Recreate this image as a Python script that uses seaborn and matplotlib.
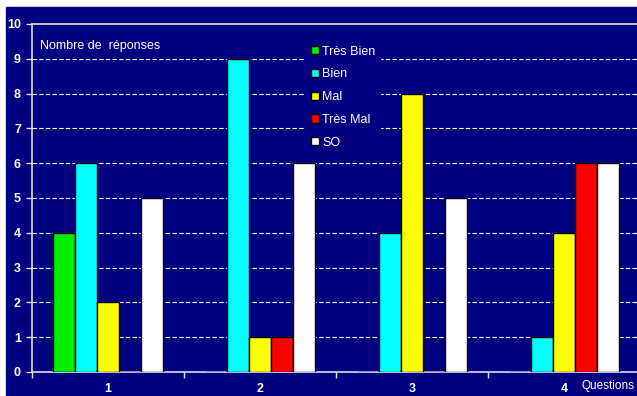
import pandas as pd
import matplotlib.pyplot as plt
import matplotlib.patches as mpatches
import seaborn as sns

# Données
questions = ['1', '2', '3', '4']
series = ['Très Bien', 'Bien', 'Mal', 'Très Mal', 'SO']
tres_bien = [4, 0, 0, 0]
bien = [6, 9, 4, 1]
mal = [2, 1, 8, 4]
tres_mal = [0, 1, 0, 6]
so = [5, 6, 5, 6]
couleurs = ['#00ee00', '#00ffff', '#ffff00', '#ff0000', '#ffffff']

navy = '#000080'

valeurs = [tres_bien, bien, mal, tres_mal, so]
lignes = []
for nom, vals in zip(series, valeurs):
    for q, v in zip(questions, vals):
        lignes.append({'Question': q, 'Avis': nom, 'Reponses': v})
dados = pd.DataFrame(lignes)

sns.set_style('white')
plt.rcParams['font.family'] = ['Liberation Sans', 'DejaVu Sans']

fig = plt.figure(figsize=(6.37, 3.96), dpi=100)
fig.patch.set_facecolor('white')
fond = mpatches.Rectangle((6 / 637, 0), 1, 1 - 7 / 396,
                          transform=fig.transFigure, color=navy, zorder=-10)
fig.add_artist(fond)

ax = fig.add_axes([32 / 637, 1 - 372 / 396, 608 / 637, 348 / 396])
ax.set_facecolor(navy)

sns.barplot(data=dados, x='Question', y='Reponses', hue='Avis', hue_order=series,
            palette=couleurs, width=0.725, gap=0, edgecolor='black', linewidth=1,
            saturation=1, ax=ax, legend=False, zorder=3)

ax.set_xlim(-0.5, 3.5)
ax.set_ylim(0, 10)
ax.set_yticks(range(0, 11))
ax.set_xticks(range(4))
ax.set_xticks([-0.5, 0.5, 1.5, 2.5], minor=True)
ax.tick_params(axis='x', which='major', length=0, pad=8, colors='white', labelsize=9)
ax.tick_params(axis='x', which='minor', length=4, direction='out', color='#dddddd', width=1)
ax.tick_params(axis='y', length=4, direction='out', color='#dddddd', width=1,
               labelcolor='white', labelsize=9, pad=4)
ax.set_xlabel('')
ax.set_ylabel('')
for lab in ax.get_xticklabels() + ax.get_yticklabels():
    lab.set_fontweight('bold')
ax.xaxis.set_ticks_position('bottom')
ax.yaxis.set_ticks_position('left')

for y in range(1, 10):
    ax.axhline(y, color='white', linestyle=(0, (4, 2)), linewidth=0.8, zorder=1)

for s in ['left', 'bottom', 'top']:
    ax.spines[s].set_color('#dddddd')
    ax.spines[s].set_linewidth(1.2)
ax.spines['right'].set_visible(False)

ax.text(0.013, 9.37, 'Nombre de  réponses', color='white', fontsize=9, va='center', ha='left',
        transform=ax.get_yaxis_transform())

handles = [mpatches.Patch(facecolor=c, edgecolor='black', linewidth=1) for c in couleurs]
leg = ax.legend(handles, series, loc='upper left', bbox_to_anchor=(0.44, 0.97),
                frameon=True, facecolor=navy, edgecolor=navy, framealpha=1,
                fontsize=9, handlelength=0.65, handleheight=0.65, handletextpad=0.25,
                labelspacing=0.86, borderpad=0.4, fancybox=False)
leg.set_zorder(5)
for t in leg.get_texts():
    t.set_color('white')

fig.text(635 / 637, 1 - 386 / 396, 'Questions', color='white', fontsize=8.5, va='center', ha='right')

fig.savefig('out.png', dpi=100, facecolor=fig.get_facecolor())
